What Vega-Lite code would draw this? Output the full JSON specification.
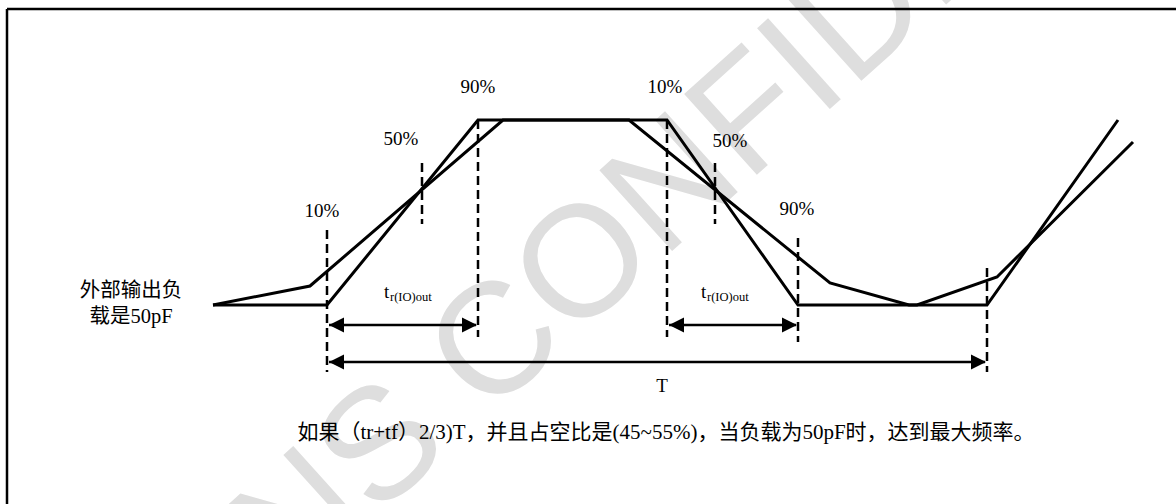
{
  "$schema": "https://vega.github.io/schema/vega-lite/v6.json",
  "width": 1176,
  "height": 504,
  "autosize": "none",
  "padding": 0,
  "background": "white",
  "config": {"view": {"stroke": null}},
  "datasets": {
    "wm": [{"t": "ONS CONFIDENTIAL", "x": 742, "y": 125}],
    "frame": [
      {"x": 7, "x2": 1176, "y": 9, "y2": 9},
      {"x": 7, "x2": 7, "y": 9, "y2": 504}
    ],
    "sig": [
      {"s": "fast", "i": 0, "x": 213, "y": 305},
      {"s": "fast", "i": 1, "x": 327, "y": 305},
      {"s": "fast", "i": 2, "x": 478, "y": 120},
      {"s": "fast", "i": 3, "x": 667, "y": 120},
      {"s": "fast", "i": 4, "x": 798, "y": 305},
      {"s": "fast", "i": 5, "x": 987, "y": 305},
      {"s": "fast", "i": 6, "x": 1118, "y": 120},
      {"s": "slow", "i": 0, "x": 213, "y": 305},
      {"s": "slow", "i": 1, "x": 310, "y": 286},
      {"s": "slow", "i": 2, "x": 503, "y": 120},
      {"s": "slow", "i": 3, "x": 629, "y": 120},
      {"s": "slow", "i": 4, "x": 830, "y": 283},
      {"s": "slow", "i": 5, "x": 909, "y": 305},
      {"s": "slow", "i": 6, "x": 917, "y": 305},
      {"s": "slow", "i": 7, "x": 997, "y": 277},
      {"s": "slow", "i": 8, "x": 1133, "y": 142}
    ],
    "dash": [
      {"x": 327, "y": 230, "y2": 372},
      {"x": 422, "y": 163, "y2": 224},
      {"x": 478, "y": 120, "y2": 337},
      {"x": 667, "y": 120, "y2": 337},
      {"x": 715, "y": 163, "y2": 224},
      {"x": 798, "y": 238, "y2": 342},
      {"x": 987, "y": 268, "y2": 372}
    ],
    "arr": [
      {"x": 329, "x2": 476, "y": 325},
      {"x": 669, "x2": 796, "y": 325},
      {"x": 329, "x2": 985, "y": 362}
    ],
    "headL": [
      {"x": 329, "y": 325},
      {"x": 669, "y": 325},
      {"x": 329, "y": 362}
    ],
    "headR": [
      {"x": 477, "y": 325},
      {"x": 797, "y": 325},
      {"x": 986, "y": 362}
    ],
    "pct": [
      {"t": "90%", "x": 478, "y": 87},
      {"t": "50%", "x": 401, "y": 139},
      {"t": "10%", "x": 322, "y": 211},
      {"t": "10%", "x": 665, "y": 87},
      {"t": "50%", "x": 730, "y": 141},
      {"t": "90%", "x": 797, "y": 209},
      {"t": "T", "x": 662, "y": 386}
    ],
    "tt": [
      {"t": "t", "x": 384, "y": 292},
      {"t": "t", "x": 701, "y": 292}
    ],
    "sub": [
      {"t": "r(IO)out", "x": 390, "y": 297},
      {"t": "r(IO)out", "x": 707, "y": 297}
    ],
    "lab": [
      {"t": "外部输出负", "x": 131, "y": 291},
      {"t": "载是50pF", "x": 131, "y": 317}
    ],
    "cap": [
      {"t": "如果（tr+tf）2/3)T，并且占空比是(45~55%)，当负载为50pF时，达到最大频率。", "x": 666, "y": 433}
    ]
  },
  "layer": [
    {
      "data": {"name": "wm"},
      "mark": {"type": "text", "font": "Liberation Sans", "fontSize": 158, "angle": -42, "align": "center", "baseline": "middle", "color": "#dedede"},
      "encoding": {
        "x": {"field": "x", "type": "quantitative", "scale": {"domain": [0, 1176], "nice": false, "zero": false}, "axis": null},
        "y": {"field": "y", "type": "quantitative", "scale": {"domain": [0, 504], "nice": false, "zero": false, "reverse": true}, "axis": null},
        "text": {"field": "t"}
      }
    },
    {
      "data": {"name": "frame"},
      "mark": {"type": "rule", "color": "black", "strokeWidth": 2.5},
      "encoding": {
        "x": {"field": "x", "type": "quantitative"},
        "x2": {"field": "x2"},
        "y": {"field": "y", "type": "quantitative"},
        "y2": {"field": "y2"}
      }
    },
    {
      "data": {"name": "sig"},
      "mark": {"type": "line", "color": "black", "strokeWidth": 3, "strokeJoin": "miter"},
      "encoding": {
        "x": {"field": "x", "type": "quantitative"},
        "y": {"field": "y", "type": "quantitative"},
        "detail": {"field": "s"},
        "order": {"field": "i"}
      }
    },
    {
      "data": {"name": "dash"},
      "mark": {"type": "rule", "color": "black", "strokeWidth": 2.5, "strokeDash": [9, 5]},
      "encoding": {
        "x": {"field": "x", "type": "quantitative"},
        "y": {"field": "y", "type": "quantitative"},
        "y2": {"field": "y2"}
      }
    },
    {
      "data": {"name": "arr"},
      "mark": {"type": "rule", "color": "black", "strokeWidth": 2.5},
      "encoding": {
        "x": {"field": "x", "type": "quantitative"},
        "x2": {"field": "x2"},
        "y": {"field": "y", "type": "quantitative"}
      }
    },
    {
      "data": {"name": "headL"},
      "mark": {"type": "point", "shape": "M0,0L2,-1L2,1Z", "size": 225, "filled": true, "color": "black", "opacity": 1, "strokeWidth": 0},
      "encoding": {
        "x": {"field": "x", "type": "quantitative"},
        "y": {"field": "y", "type": "quantitative"}
      }
    },
    {
      "data": {"name": "headR"},
      "mark": {"type": "point", "shape": "M0,0L-2,-1L-2,1Z", "size": 225, "filled": true, "color": "black", "opacity": 1, "strokeWidth": 0},
      "encoding": {
        "x": {"field": "x", "type": "quantitative"},
        "y": {"field": "y", "type": "quantitative"}
      }
    },
    {
      "data": {"name": "pct"},
      "mark": {"type": "text", "font": "Liberation Serif", "fontSize": 19, "align": "center", "baseline": "middle", "color": "black"},
      "encoding": {
        "x": {"field": "x", "type": "quantitative"},
        "y": {"field": "y", "type": "quantitative"},
        "text": {"field": "t"}
      }
    },
    {
      "data": {"name": "tt"},
      "mark": {"type": "text", "font": "Liberation Serif", "fontSize": 19, "align": "left", "baseline": "middle", "color": "black"},
      "encoding": {
        "x": {"field": "x", "type": "quantitative"},
        "y": {"field": "y", "type": "quantitative"},
        "text": {"field": "t"}
      }
    },
    {
      "data": {"name": "sub"},
      "mark": {"type": "text", "font": "Liberation Serif", "fontSize": 12.5, "align": "left", "baseline": "middle", "color": "black"},
      "encoding": {
        "x": {"field": "x", "type": "quantitative"},
        "y": {"field": "y", "type": "quantitative"},
        "text": {"field": "t"}
      }
    },
    {
      "data": {"name": "lab"},
      "mark": {"type": "text", "font": "Liberation Serif, Noto Sans CJK SC", "fontSize": 20.5, "align": "center", "baseline": "middle", "color": "black"},
      "encoding": {
        "x": {"field": "x", "type": "quantitative"},
        "y": {"field": "y", "type": "quantitative"},
        "text": {"field": "t"}
      }
    },
    {
      "data": {"name": "cap"},
      "mark": {"type": "text", "font": "Liberation Serif, Noto Sans CJK SC", "fontSize": 21, "align": "center", "baseline": "middle", "color": "black"},
      "encoding": {
        "x": {"field": "x", "type": "quantitative"},
        "y": {"field": "y", "type": "quantitative"},
        "text": {"field": "t"}
      }
    }
  ]
}
